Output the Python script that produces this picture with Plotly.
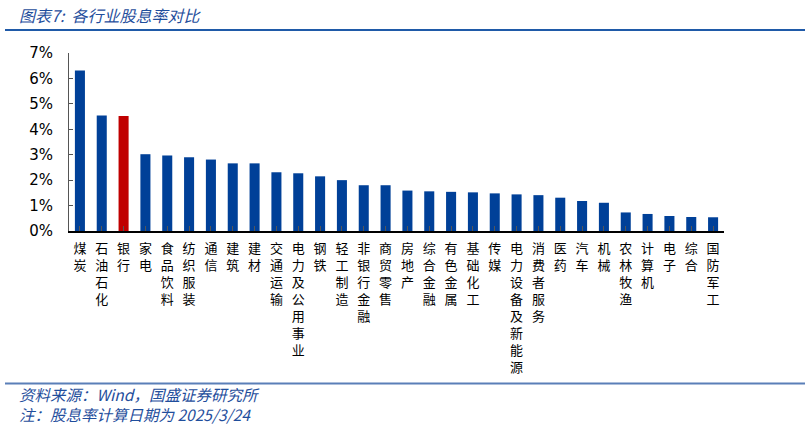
import plotly.graph_objects as go

categories = ["煤炭", "石油石化", "银行", "家电", "食品饮料", "纺织服装", "通信", "建筑", "建材",
              "交通运输", "电力及公用事业", "钢铁", "轻工制造", "非银行金融", "商贸零售", "房地产",
              "综合金融", "有色金属", "基础化工", "传媒", "电力设备及新能源", "消费者服务", "医药",
              "汽车", "机械", "农林牧渔", "计算机", "电子", "综合", "国防军工"]
yields = [6.31, 4.54, 4.52, 3.02, 2.97, 2.90, 2.81, 2.66, 2.66,
          2.31, 2.27, 2.15, 2.00, 1.80, 1.80, 1.59,
          1.56, 1.54, 1.52, 1.48, 1.44, 1.41, 1.31,
          1.18, 1.11, 0.73, 0.67, 0.59, 0.55, 0.54]
highlight = "银行"
y_ticks = [0, 1, 2, 3, 4, 5, 6, 7]

W, H = 810, 429
L, R, T, B = 69, 724, 53, 231

def px(x):
    return (x - L) / (R - L)

def py(y):
    return (B - y) / (B - T)

colors = ["#C00000" if c == highlight else "#004098" for c in categories]
tick_text = ["<br>".join(list(c)) for c in categories]

fig = go.Figure(go.Bar(x=list(range(len(categories))), y=yields, marker_color=colors,
                       marker_line_width=0, width=0.46))

fig.update_layout(
    width=W, height=H,
    margin=dict(l=L, r=W - R, t=T, b=H - B, pad=0, autoexpand=False),
    plot_bgcolor="white", paper_bgcolor="white",
    showlegend=False,
    font=dict(family="Noto Sans CJK SC", color="black"),
)
fig.update_xaxes(
    automargin=False,
    range=[-0.5, len(categories) - 0.5],
    tickmode="array", tickvals=list(range(len(categories))), ticktext=tick_text,
    tickangle=0, tickfont=dict(size=13, family="Noto Sans CJK SC", color="black"),
    showline=True, linecolor="black", linewidth=1.5,
    ticks="inside", ticklen=5, tickcolor="#555555", tickson="boundaries",
    showgrid=False, zeroline=False, ticklabelstandoff=5,
)
fig.update_yaxes(
    automargin=False,
    range=[0, 7], tickmode="array", tickvals=y_ticks,
    ticktext=[f"{v}%" for v in y_ticks],
    tickfont=dict(size=15, family="DejaVu Sans", color="black"),
    showline=True, linecolor="#555555", linewidth=1,
    ticks="inside", ticklen=4, tickcolor="#555555",
    showgrid=False, zeroline=False, ticklabelstandoff=12,
)

blue = "#1F4E9C"
fig.add_shape(type="line", xref="paper", yref="paper", x0=px(5), x1=px(805), y0=py(30), y1=py(30),
              line=dict(color="#1F5AA8", width=2))
fig.add_shape(type="line", xref="paper", yref="paper", x0=px(5), x1=px(805), y0=py(383.5), y1=py(383.5),
              line=dict(color="#5A7FB8", width=2))

fig.add_annotation(xref="paper", yref="paper", x=px(17), y=py(15), xanchor="left", yanchor="middle",
                   text="<i>图表7:  各行业股息率对比</i>", showarrow=False,
                   font=dict(size=16, color=blue, family="Noto Sans CJK SC"))
fig.add_annotation(xref="paper", yref="paper", x=px(17), y=py(404), xanchor="left", yanchor="middle",
                   align="left",
                   text="<i>资料来源：Wind，国盛证券研究所</i><br><i>注：股息率计算日期为 2025/3/24</i>",
                   showarrow=False,
                   font=dict(size=15.5, color=blue, family="Noto Sans CJK SC"))

fig.write_html("out.html", config={"displayModeBar": False},
               post_script="document.body.style.margin='0';")
